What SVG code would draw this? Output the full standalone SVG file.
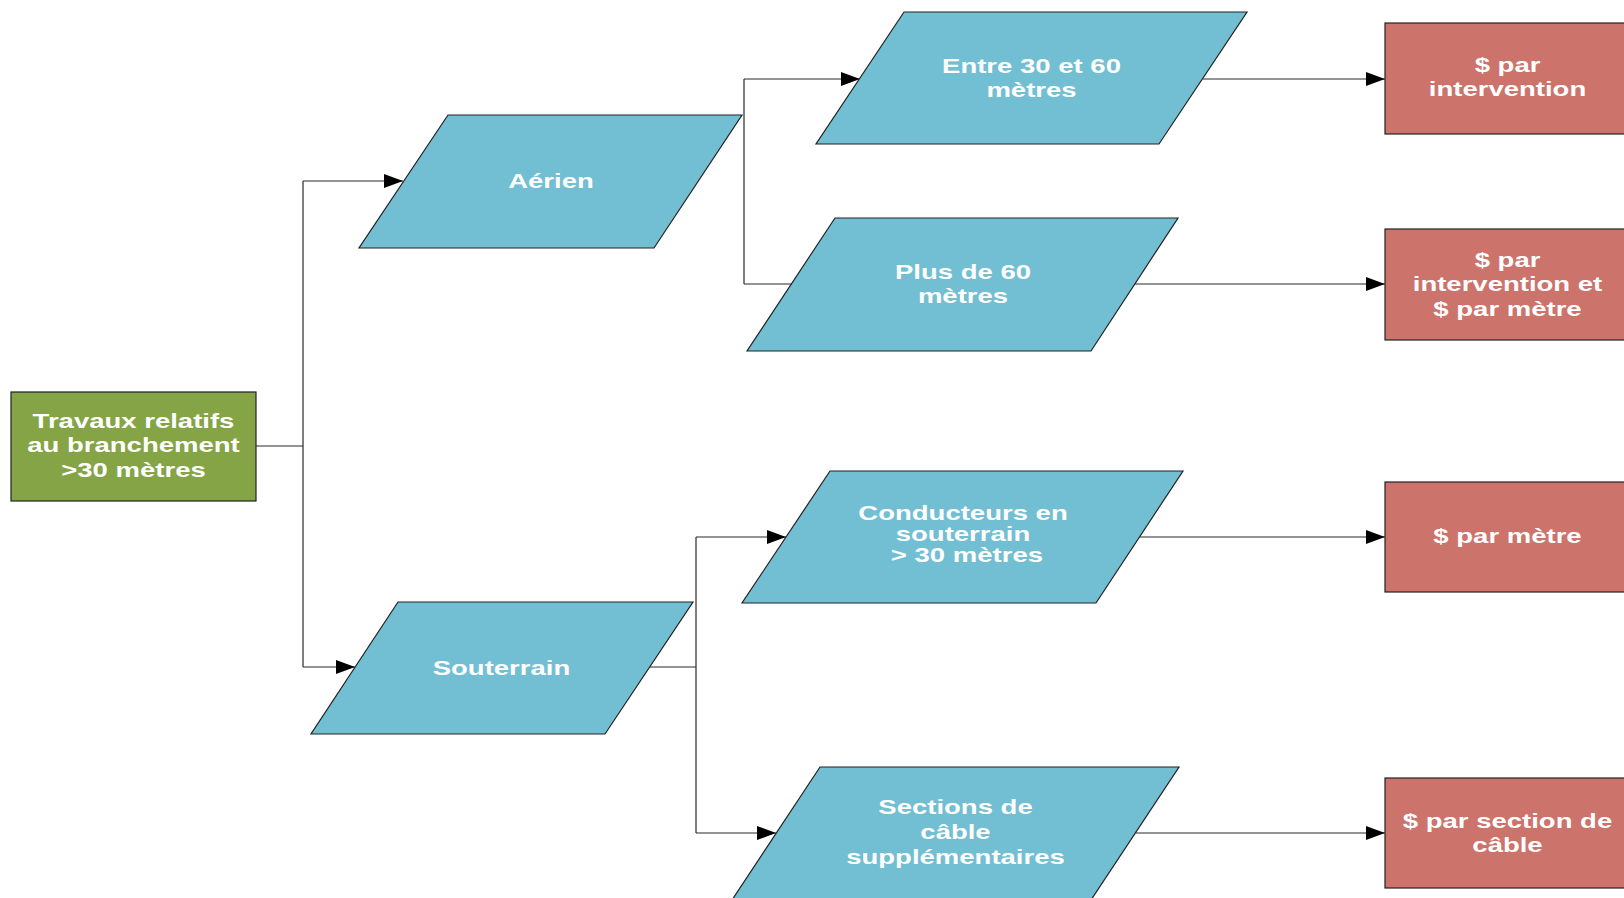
<svg xmlns="http://www.w3.org/2000/svg" width="1624" height="898" viewBox="0 0 1624 898">
<defs>
<marker id="arr" markerUnits="userSpaceOnUse" markerWidth="19" markerHeight="14" refX="19" refY="7" orient="auto">
<path d="M0,0 L19,7 L0,14 z" fill="#000"/>
</marker>
<style>
.conn{fill:none;stroke:#2a2a2a;stroke-width:1.2}
.para{fill:#72BED2;stroke:#222;stroke-width:1.2}
.green{fill:#84A446;stroke:#222;stroke-width:1.2}
.red{fill:#CC736C;stroke:#222;stroke-width:1.2}
.t{font-family:"Liberation Sans",Arial,sans-serif;font-weight:bold;font-size:21px;fill:#fff;text-anchor:middle}
</style>
</defs>
<rect width="1624" height="898" fill="#fff"/>
<g id="connectors">
<path class="conn" d="M256,446 H303"/>
<path class="conn" d="M303,181 V667"/>
<path class="conn" d="M303,181 H403" marker-end="url(#arr)"/>
<path class="conn" d="M303,667 H355" marker-end="url(#arr)"/>
<path class="conn" d="M744,79 V284"/>
<path class="conn" d="M744,79 H860" marker-end="url(#arr)"/>
<path class="conn" d="M744,284 H792"/>
<path class="conn" d="M649,667 H696"/>
<path class="conn" d="M696,537 V833"/>
<path class="conn" d="M696,537 H786" marker-end="url(#arr)"/>
<path class="conn" d="M696,833 H776" marker-end="url(#arr)"/>
<path class="conn" d="M1203,79 H1385" marker-end="url(#arr)"/>
<path class="conn" d="M1135,284 H1385" marker-end="url(#arr)"/>
<path class="conn" d="M1140,537 H1385" marker-end="url(#arr)"/>
<path class="conn" d="M1136,833 H1385" marker-end="url(#arr)"/>
</g>
<g id="travaux">
<rect class="green" x="11" y="392" width="245" height="109"/>
<g transform="translate(133.5,0) scale(1.31,1)">
<text class="t" x="0" y="428">Travaux relatifs</text>
<text class="t" x="0" y="452.5">au branchement</text>
<text class="t" x="0" y="477">&gt;30 mètres</text>
</g>
</g>
<g id="aerien">
<polygon class="para" points="448,115 742,115 654,248 359,248"/>
<g transform="translate(551,0) scale(1.31,1)"><text class="t" x="0" y="188.5">Aérien</text></g>
</g>
<g id="entre">
<polygon class="para" points="904,12 1247,12 1159,144 816,144"/>
<g transform="translate(1031.5,0) scale(1.31,1)">
<text class="t" x="0" y="73.5">Entre 30 et 60</text>
<text class="t" x="0" y="97.5">mètres</text>
</g>
</g>
<g id="plus">
<polygon class="para" points="835,218 1178,218 1091,351 747,351"/>
<g transform="translate(963,0) scale(1.31,1)">
<text class="t" x="0" y="279.5">Plus de 60</text>
<text class="t" x="0" y="303.5">mètres</text>
</g>
</g>
<g id="souterrain">
<polygon class="para" points="398,602 693,602 605,734 311,734"/>
<g transform="translate(501.5,0) scale(1.31,1)"><text class="t" x="0" y="674.5">Souterrain</text></g>
</g>
<g id="conducteurs">
<polygon class="para" points="830,471 1183,471 1096,603 742,603"/>
<g transform="translate(963,0) scale(1.31,1)">
<text class="t" x="0" y="520.5">Conducteurs en</text>
<text class="t" x="0" y="541.5">souterrain</text>
<text class="t" x="3" y="562.5">&gt; 30 mètres</text>
</g>
</g>
<g id="sections">
<polygon class="para" points="820,767 1179,767 1091,900 732,900"/>
<g transform="translate(955.5,0) scale(1.31,1)">
<text class="t" x="0" y="814.5">Sections de</text>
<text class="t" x="0" y="839.5">câble</text>
<text class="t" x="0" y="864">supplémentaires</text>
</g>
</g>
<g id="prix1">
<rect class="red" x="1385" y="23" width="245" height="111"/>
<g transform="translate(1507.5,0) scale(1.31,1)">
<text class="t" x="0" y="72.5">$ par</text>
<text class="t" x="0" y="96.5">intervention</text>
</g>
</g>
<g id="prix2">
<rect class="red" x="1385" y="229" width="245" height="111"/>
<g transform="translate(1507.5,0) scale(1.31,1)">
<text class="t" x="0" y="267">$ par</text>
<text class="t" x="0" y="291.5">intervention et</text>
<text class="t" x="0" y="316">$ par mètre</text>
</g>
</g>
<g id="prix3">
<rect class="red" x="1385" y="482" width="245" height="110"/>
<g transform="translate(1507.5,0) scale(1.31,1)"><text class="t" x="0" y="543">$ par mètre</text></g>
</g>
<g id="prix4">
<rect class="red" x="1385" y="778" width="245" height="110"/>
<g transform="translate(1507.5,0) scale(1.31,1)">
<text class="t" x="0" y="828">$ par section de</text>
<text class="t" x="0" y="852">câble</text>
</g>
</g>
</svg>
